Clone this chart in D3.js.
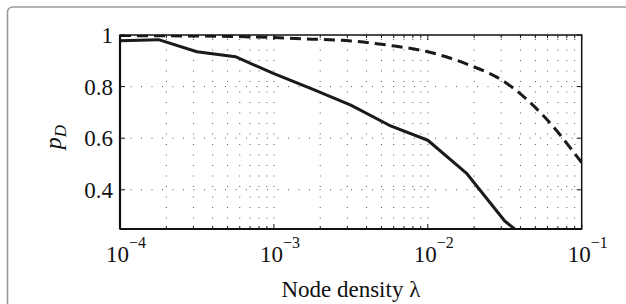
<!DOCTYPE html>
<html>
<head>
<meta charset="utf-8">
<script src="https://cdn.jsdelivr.net/npm/d3@7"></script>
<style>
  body { margin: 0; background: #fff; }
  svg { display: block; }
  text { font-family: "Liberation Serif", "DejaVu Serif", serif; fill: #111; }
</style>
</head>
<body>
<script>
// node density grid (4 points per decade)
const density = [1e-4, 1.78e-4, 3.16e-4, 5.62e-4, 1e-3, 1.78e-3, 3.16e-3, 5.62e-3, 1e-2, 1.78e-2, 3.16e-2, 5.62e-2, 1e-1]
const solidPD = [0.978, 0.982, 0.935, 0.916, 0.85, 0.79, 0.728, 0.65, 0.592, 0.465, 0.279, 0.16, 0.08]
const dashedPD = [0.998, 0.997, 0.996, 0.994, 0.99, 0.984, 0.977, 0.96, 0.935, 0.888, 0.818, 0.688, 0.505]
const yTicks = [0.4, 0.6, 0.8, 1]
const xTicks = [1e-4, 1e-3, 1e-2, 1e-1]

const W = 626, H = 304
const margin = { top: 35, right: 44.3, bottom: 75, left: 120 }
const width = W - margin.left - margin.right
const height = H - margin.top - margin.bottom

const svg = d3.select('body').append('svg')
  .attr('width', W)
  .attr('height', H)

// outer panel frame
svg.append('rect')
  .attr('x', 7.5).attr('y', 7)
  .attr('width', 640).attr('height', 320)
  .attr('rx', 5)
  .attr('fill', 'none')
  .attr('stroke', '#999')
  .attr('stroke-width', 1.6)

const g = svg.append('g')
  .attr('transform', `translate(${margin.left},${margin.top})`)

const x = d3.scaleLog().domain([1e-4, 1e-1]).range([0, width])
const y = d3.scaleLinear().domain([0.248, 1]).range([height, 0])

// minor x ticks
const minorX = []
for (let e = -4; e < -1; e++) {
  for (let k = 2; k <= 9; k++) minorX.push(k * Math.pow(10, e))
}

// ---------------Grid---------------
const grid = g.append('g').attr('stroke', '#555').attr('stroke-width', 1)
  .attr('stroke-dasharray', '1,9.5')

grid.selectAll('.vgrid')
  .data(minorX.concat(xTicks.slice(1, 3)))
  .enter().append('line')
  .attr('x1', d => x(d)).attr('x2', d => x(d))
  .attr('y1', height).attr('y2', 0)

grid.selectAll('.hgrid')
  .data(yTicks.slice(0, 3))
  .enter().append('line')
  .attr('y1', d => y(d)).attr('y2', d => y(d))
  .attr('x1', 0).attr('x2', width)

// ---------------Ticks---------------
const ticks = g.append('g').attr('stroke', '#111').attr('stroke-width', 1)
minorX.forEach(d => {
  ticks.append('line').attr('x1', x(d)).attr('x2', x(d)).attr('y1', height).attr('y2', height - 3)
  ticks.append('line').attr('x1', x(d)).attr('x2', x(d)).attr('y1', 0).attr('y2', 3)
})
xTicks.forEach(d => {
  ticks.append('line').attr('x1', x(d)).attr('x2', x(d)).attr('y1', height).attr('y2', height - 5)
  ticks.append('line').attr('x1', x(d)).attr('x2', x(d)).attr('y1', 0).attr('y2', 5)
})
yTicks.forEach(d => {
  ticks.append('line').attr('y1', y(d)).attr('y2', y(d)).attr('x1', 0).attr('x2', 5)
  ticks.append('line').attr('y1', y(d)).attr('y2', y(d)).attr('x1', width).attr('x2', width - 5)
})

// ---------------Lines---------------
g.append('clipPath').attr('id', 'clip')
  .append('rect').attr('width', width).attr('height', height)

const line = d3.line()
  .x(d => x(d[0]))
  .y(d => y(d[1]))

g.append('path')
  .datum(density.map((d, i) => [d, solidPD[i]]))
  .attr('clip-path', 'url(#clip)')
  .attr('fill', 'none')
  .attr('stroke', '#1a1a1a')
  .attr('stroke-width', 3)
  .attr('stroke-linejoin', 'round')
  .attr('d', line)

g.append('path')
  .datum(density.map((d, i) => [d, dashedPD[i]]))
  .attr('clip-path', 'url(#clip)')
  .attr('fill', 'none')
  .attr('stroke', '#1a1a1a')
  .attr('stroke-width', 3)
  .attr('stroke-dasharray', '11,6')
  .attr('d', d3.line().curve(d3.curveMonotoneX).x(d => x(d[0])).y(d => y(d[1])))

// axes box
g.append('rect')
  .attr('width', width).attr('height', height)
  .attr('fill', 'none')
  .attr('stroke', '#111')
  .attr('stroke-width', 1.5)
g.append('line').attr('x1', 0).attr('x2', 0).attr('y1', 0).attr('y2', height)
  .attr('stroke', '#111').attr('stroke-width', 2.2)
g.append('line').attr('x1', 0).attr('x2', width).attr('y1', height).attr('y2', height)
  .attr('stroke', '#111').attr('stroke-width', 2.2)

// ---------------Tick labels---------------
g.selectAll('.ylab')
  .data(yTicks)
  .enter().append('text')
  .attr('x', -7)
  .attr('y', d => y(d) + 8)
  .attr('text-anchor', 'end')
  .attr('font-size', 23)
  .text(d => d === 1 ? '1' : d3.format('.1f')(d))

const xl = g.selectAll('.xlab')
  .data(xTicks)
  .enter().append('text')
  .attr('x', d => x(d) - 14)
  .attr('y', height + 33)
  .attr('font-size', 23)
xl.append('tspan').text('10')
xl.append('tspan').attr('dy', -14).attr('font-size', 16)
  .text(d => '\u2212' + Math.round(-Math.log10(d)))

// ---------------Axis titles---------------
g.append('text')
  .attr('x', width / 2)
  .attr('y', height + 68)
  .attr('text-anchor', 'middle')
  .attr('font-size', 23)
  .text('Node density \u03bb')

const yt = svg.append('text')
  .attr('transform', 'translate(61,137) rotate(-90)')
  .attr('text-anchor', 'middle')
  .attr('font-size', 24)
  .attr('font-style', 'italic')
yt.append('tspan').text('p')
yt.append('tspan').attr('dy', 5).attr('font-size', 17).text('D')
</script>
</body>
</html>
